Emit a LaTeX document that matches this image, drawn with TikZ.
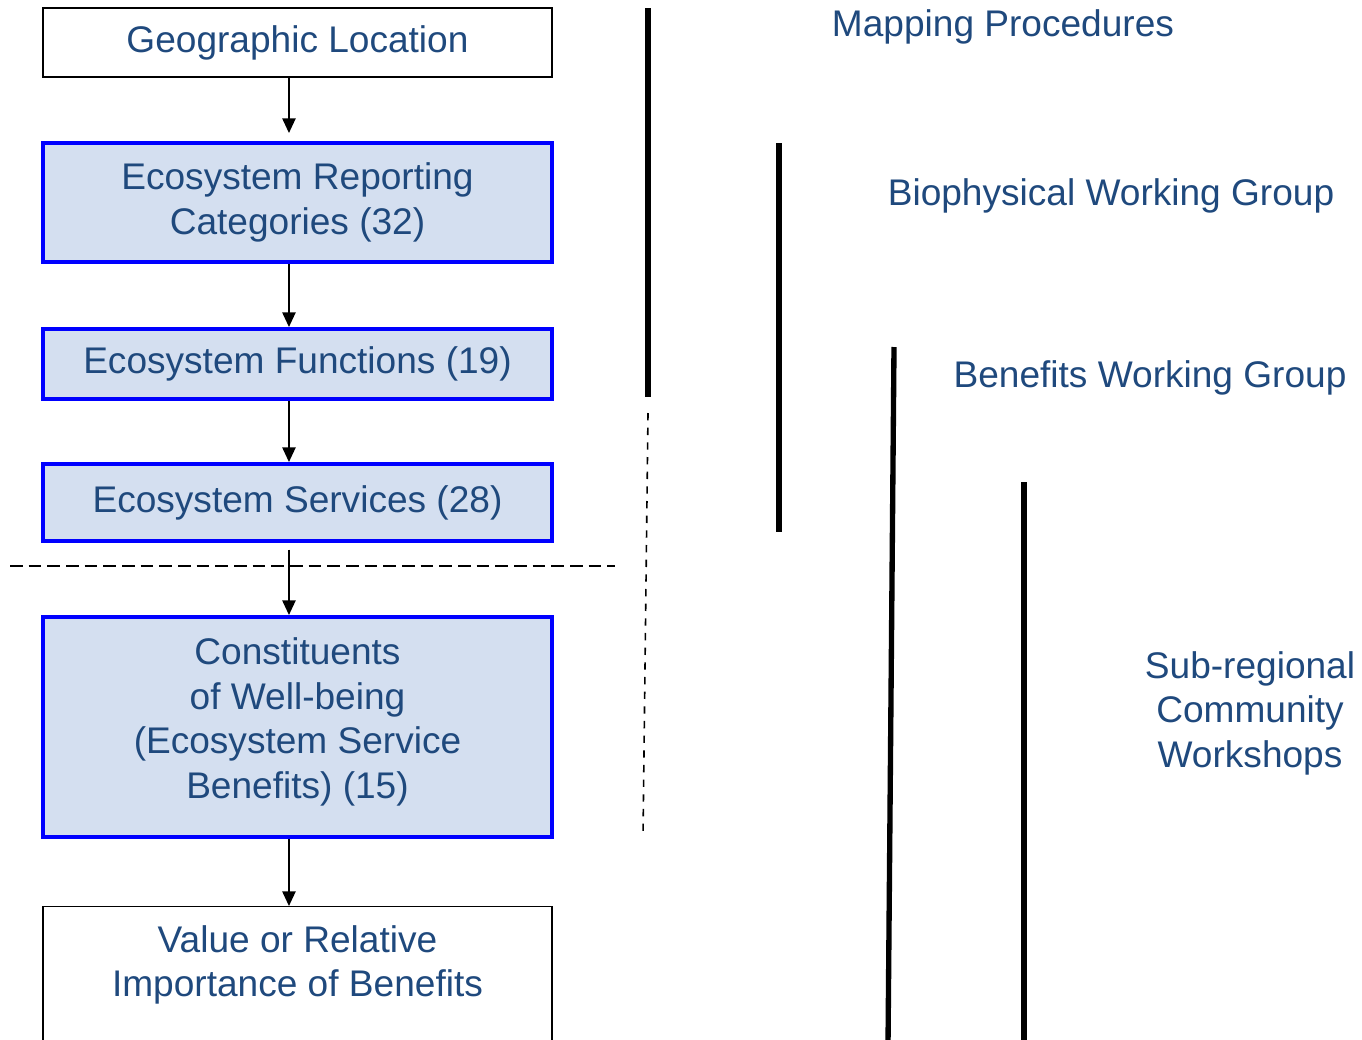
\documentclass[tikz,border=0pt]{standalone}
\usepackage{fontspec}
\setmainfont{Liberation Sans}
\usepackage{tikz}
\usetikzlibrary{arrows.meta}
\definecolor{textoazul}{RGB}{31,73,125}
\definecolor{fundoazul}{RGB}{212,223,240}

\begin{document}
\begin{tikzpicture}[x=0.75pt, y=-0.75pt,
        texto/.style={text=textoazul, font=\fontsize{27.8pt}{33.4pt}\selectfont, align=center},
        caixa/.style={texto, rectangle, draw=black, line width=1.1pt, minimum width=381.75pt},
        caixaazul/.style={caixa, draw=blue, fill=fundoazul, line width=3pt},
        seta/.style={-{Triangle[width=10pt,length=11pt]}, line width=1.1pt},
        barra/.style={line width=4pt}]
        \useasboundingbox (0,0) rectangle (1362,1039);
        \clip (0,0) rectangle (1362,1039);

        % Caixas
        \node[caixa, minimum height=51.75pt] (loc) at (297.5,42.5) {Geographic Location};
        \node[caixaazul, minimum height=89.25pt] (cat) at (297.5,202.5) {Ecosystem Reporting\\Categories (32)};
        \node[caixaazul, minimum height=52.5pt] (fun) at (297.5,364) {Ecosystem Functions (19)};
        \node[caixaazul, minimum height=57.75pt] (ser) at (297.5,502.5) {Ecosystem Services (28)};
        \node[caixaazul, minimum height=165pt] (ben) at (297.5,727) {};
        \node[texto, yshift=4pt] (bentxt) at (ben.center) {Constituents\\of Well-being\\(Ecosystem Service\\Benefits) (15)};
        \node[caixa, minimum height=150pt, anchor=north] (val) at (297.5,906) {};
        \node[texto, anchor=north, inner sep=0pt, yshift=-14.25pt] (valtxt) at (val.north) {Value or Relative\\Importance of Benefits};

        % Setas
        \draw[seta] ([xshift=-6.4pt]loc.south) -- ([xshift=-6.4pt,yshift=6pt]cat.north);
        \draw[seta] ([xshift=-6.4pt]cat.south) -- ([xshift=-6.4pt]fun.north);
        \draw[seta] ([xshift=-6.4pt]fun.south) -- ([xshift=-6.4pt]ser.north);
        \draw[seta] ([xshift=-6.4pt,yshift=-5pt]ser.south) -- ([xshift=-6.4pt]ben.north);
        \draw[seta] ([xshift=-6.4pt]ben.south) -- ([xshift=-6.4pt]val.north);

        % Linhas tracejadas
        \draw[line width=1.5pt, dash pattern=on 9.5pt off 4.5pt] (10,566) -- (615,566);
        \draw[line width=1.2pt, dash pattern=on 5.5pt off 5.5pt] (648,413) -- (643,837);

        % Barras
        \draw[barra] (648,8) -- (648,397);
        \draw[barra] (779,143) -- (779,532);
        \draw[barra] (894,347) -- (888,1045);
        \draw[barra] (1024,482) -- (1024,1045);

        % Grupos
        \node[texto] (map) at (1003,27) {Mapping Procedures};
        \node[texto] (bio) at (1111,196) {Biophysical Working Group};
        \node[texto] (bwg) at (1150,378) {Benefits Working Group};
        \node[texto] (sub) at (1250,713) {Sub-regional\\Community\\Workshops};
    \end{tikzpicture}
\end{document}
